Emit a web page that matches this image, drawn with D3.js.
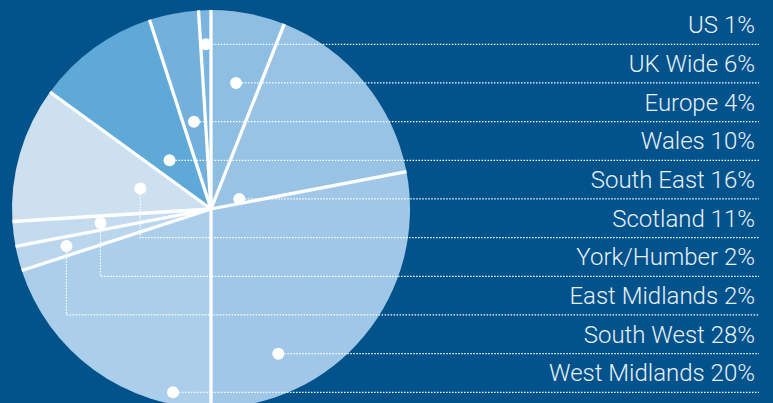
<!DOCTYPE html>
<html>
<head>
<meta charset="utf-8">
<script src="https://cdn.jsdelivr.net/npm/d3@7"></script>
<style>
  html, body { margin: 0; padding: 0; background: #02528c; }
  svg { display: block; }
</style>
</head>
<body>
<svg id="chart" width="773" height="403"></svg>
<script>
// legend order (top to bottom)
const regions = ["US", "UK Wide", "Europe", "Wales", "South East", "Scotland",
                 "York/Humber", "East Midlands", "South West", "West Midlands"];
const shares = [1, 6, 4, 10, 16, 11, 2, 2, 28, 20];
// order of slices, clockwise from 12 o'clock
const pieOrder = ["UK Wide", "South East", "South West", "West Midlands", "East Midlands",
                  "York/Humber", "Scotland", "Wales", "Europe", "US"];
const sliceColors = ["#7bb4de", "#8ebee2", "#74b0dc", "#5ea9d8", "#98c3e5", "#cde0f0",
                     "#c4dbef", "#b9d6ed", "#a0c7e7", "#abcfea"];

const svg = d3.select("#chart"),
    width = +svg.attr("width"),
    height = +svg.attr("height");

const cx = 211, cy = 209, radius = 199;
const lineEnd = 759, textRight = 755;

const data = regions.map((r, i) => ({region: r, value: shares[i]}));

const color = d3.scaleOrdinal().domain(regions).range(sliceColors);

const rowY = d3.scalePoint()
    .domain(regions)
    .range([44.3, 392.3]);

const pie = d3.pie()
    .value(d => d.value)
    .sort((a, b) => pieOrder.indexOf(a.region) - pieOrder.indexOf(b.region));

const arcs = pie(data);

const arc = d3.arc()
    .innerRadius(0)
    .outerRadius(radius);

const g = svg.append("g").attr("transform", `translate(${cx},${cy})`);

g.selectAll("path.slice")
    .data(arcs)
    .enter()
    .append("path")
    .attr("class", "slice")
    .attr("d", arc)
    .attr("fill", d => color(d.data.region));

// white dividers between slices
g.selectAll("line.divider")
    .data(arcs)
    .enter()
    .append("line")
    .attr("class", "divider")
    .attr("x1", 0)
    .attr("y1", 0)
    .attr("x2", d => radius * Math.sin(d.startAngle))
    .attr("y2", d => -radius * Math.cos(d.startAngle))
    .attr("stroke", "white")
    .attr("stroke-width", 3.3)
    .attr("stroke-linecap", "butt");

// place a dot for each slice: on the row line if the row crosses the slice,
// otherwise on the centroid ray with an elbow leader down to the row
let elbowCount = 0;
const anchors = arcs.map(d => {
    const y = rowY(d.data.region) - cy;
    const xs = [];
    const half = Math.sqrt(Math.max(0, radius * radius - y * y));
    for (let x = -half + 2; x <= half - 2; x += 0.5) {
        let a = Math.atan2(x, -y);
        if (a < 0) a += 2 * Math.PI;
        if (a > d.startAngle && a < d.endAngle) xs.push(x);
    }
    if (xs.length > 0) {
        return {d: d, x: (d3.min(xs) + d3.max(xs)) / 2, y: y, elbow: false};
    }
    const mid = (d.startAngle + d.endAngle) / 2;
    const r = radius * (0.37 + 0.19 * elbowCount++);
    return {d: d, x: r * Math.sin(mid), y: -r * Math.cos(mid), rowY: y, elbow: true};
});

// leaders
g.selectAll("path.leader")
    .data(anchors)
    .enter()
    .append("path")
    .attr("class", "leader")
    .attr("d", a => a.elbow
        ? `M${a.x},${a.y}V${a.rowY}H${lineEnd - cx}`
        : `M${a.x},${a.y}H${lineEnd - cx}`)
    .attr("fill", "none")
    .attr("stroke", "white")
    .attr("stroke-width", 1.2)
    .attr("stroke-dasharray", "1.5,1.5");

g.selectAll("circle.dot")
    .data(anchors)
    .enter()
    .append("circle")
    .attr("class", "dot")
    .attr("cx", a => a.x)
    .attr("cy", a => a.y)
    .attr("r", 6)
    .attr("fill", "white");

// labels
svg.selectAll("text.label")
    .data(data)
    .enter()
    .append("text")
    .attr("class", "label")
    .attr("x", textRight)
    .attr("y", d => rowY(d.region) - 11)
    .attr("text-anchor", "end")
    .style("fill", "#e8f0f8")
    .style("font-family", "Roboto, 'Liberation Sans', sans-serif")
    .style("font-weight", 300)
    .style("font-size", "24px")
    .text(d => d.region + " " + d.value + "%");
</script>
</body>
</html>
